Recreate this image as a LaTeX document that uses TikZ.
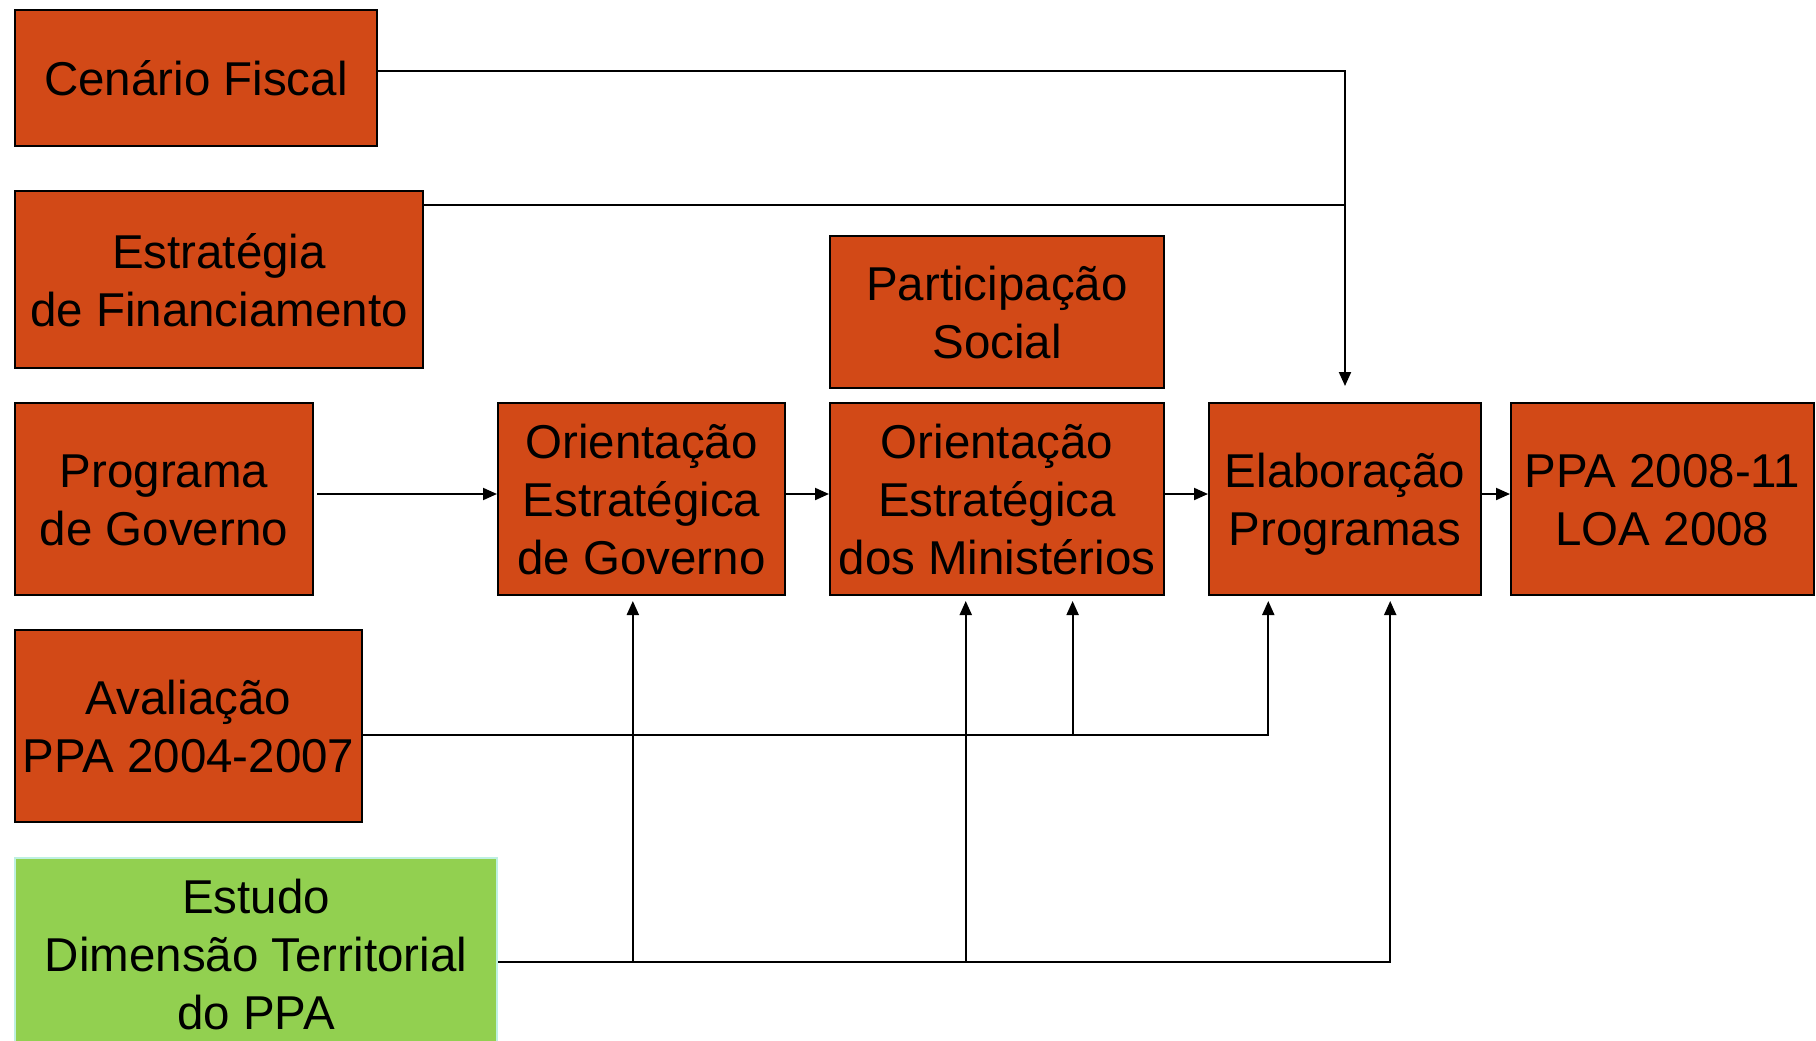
\documentclass[tikz,border=0pt]{standalone}
\usepackage{fontspec}
\setmainfont{Liberation Sans}
\usetikzlibrary{arrows.meta,calc}
\definecolor{boxorange}{RGB}{210,73,23}
\definecolor{boxgreen}{RGB}{146,208,80}
\definecolor{greenborder}{RGB}{190,240,225}
\newcommand\topst{\rule{0pt}{46pt}}
\newcommand\botst{\rule[-11pt]{0pt}{11pt}}
\begin{document}
\begin{tikzpicture}[x=1pt,y=-1pt,
  box/.style={draw=black, line width=2pt, fill=boxorange, inner sep=0pt, align=center,
    font=\fontsize{47.5}{58}\selectfont, anchor=north west},
  gbox/.style={box, draw=greenborder, fill=boxgreen},
  conn/.style={line width=2pt},
  arr/.style={conn, -{Triangle[length=14pt,width=12pt]}}]
\useasboundingbox[fill=white] (0,0) rectangle (1816,1041);
% boxes
\node[box, minimum width=362pt, minimum height=136pt] (cen) at (14,9) {\topst Cenário Fiscal\botst};
\node[box, minimum width=408pt, minimum height=177pt] (fin) at (14,190) {\topst Estratégia\\de Financiamento\botst};
\node[box, minimum width=334pt, minimum height=152pt] (part) at (829,235) {\topst Participação\\Social\botst};
\node[box, minimum width=298pt, minimum height=192pt] (prog) at (14,402) {\topst Programa\\de Governo\botst};
\node[box, minimum width=287pt, minimum height=192pt] (og) at (497,402) {\topst Orientação\\Estratégica\\de Governo\botst};
\node[box, minimum width=334pt, minimum height=192pt] (om) at (829,402) {\topst Orientação\\Estratégica\\dos Ministérios\botst};
\node[box, minimum width=272pt, minimum height=192pt] (elab) at (1208,402) {\topst Elaboração\\Programas\botst};
\node[box, minimum width=303pt, minimum height=192pt] (ppa) at (1510,402) {\topst PPA 2008-11\\LOA 2008\botst};
\node[box, minimum width=347pt, minimum height=192pt] (aval) at (14,629) {\topst Avaliação\\PPA 2004-2007\botst};
\node[gbox, minimum width=482pt, minimum height=192pt] (est) at (14,857) {\topst Estudo\\Dimensão Territorial\\do PPA\botst};
% top inputs
\draw[arr, shorten >=16pt] ([yshift=7pt]cen.east) -| (elab.north);
\coordinate (finout) at ($(fin.north east)+(0,15)$);
\draw[conn] (finout) -- (finout -| elab.north);
% main chain
\draw[arr, shorten <=3pt] ([yshift=5pt]prog.east) -- ([yshift=5pt]og.west);
\draw[arr] ([yshift=5pt]og.east) -- ([yshift=5pt]om.west);
\draw[arr] ([yshift=5pt]om.east) -- ([yshift=5pt]elab.west);
\draw[arr] ([yshift=5pt]elab.east) -- ([yshift=5pt]ppa.west);
% avaliacao
\coordinate (avout) at ($(aval.east)+(0,9)$);
\coordinate (omA) at ($(om.south west)!0.725!(om.south east)$);
\coordinate (elabA) at ($(elab.south west)!0.22!(elab.south east)$);
\draw[arr, shorten >=5pt] (avout) -| (elabA);
\draw[arr, shorten >=5pt] (avout -| omA) -- (omA);
% estudo
\coordinate (estout) at ($(est.east)+(0,8)$);
\coordinate (ogA) at ($(og.south west)!0.47!(og.south east)$);
\coordinate (omB) at ($(om.south west)!0.407!(om.south east)$);
\coordinate (elabB) at ($(elab.south west)!0.665!(elab.south east)$);
\draw[arr, shorten >=5pt] (estout) -| (elabB);
\draw[arr, shorten >=5pt] (estout -| ogA) -- (ogA);
\draw[arr, shorten >=5pt] (estout -| omB) -- (omB);
\end{tikzpicture}
\end{document}
